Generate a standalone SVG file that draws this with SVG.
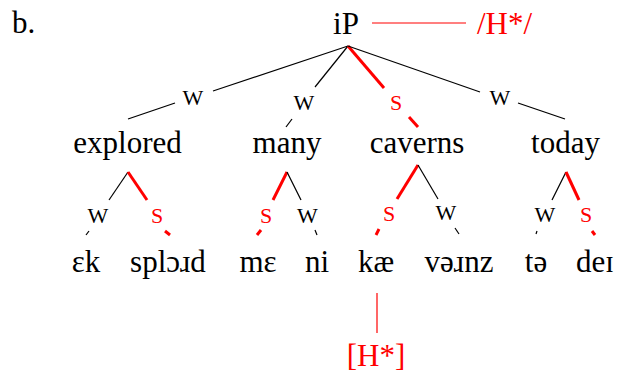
<svg xmlns="http://www.w3.org/2000/svg" width="617" height="373" viewBox="0 0 617 373">
<style>
text{font-family:"Liberation Serif","Times New Roman",serif;font-size:31px;fill:#000;text-anchor:middle}
.r{fill:#ff0000}
.sc{font-variant:small-caps;font-size:32px}
.k{stroke:#000;stroke-width:1.2;fill:none}
.rt{stroke:#ff0000;stroke-width:3;fill:none}
.rn{stroke:#ff0000;stroke-width:1.2;fill:none}
</style>
<rect width="617" height="373" fill="#fff"/>
<g id="label-b"><text x="12" y="33" style="text-anchor:start">b.</text></g>
<g id="iP"><text x="346" y="34">iP</text></g>
<g id="tone-phon"><text x="477" y="34" class="r" style="text-anchor:start">/H*/</text></g>
<g id="w1"><text x="193" y="105" class="sc">w</text></g>
<g id="w2"><text x="304" y="110" class="sc">w</text></g>
<g id="s3"><text x="396" y="110" class="sc r">s</text></g>
<g id="w4"><text x="500" y="105" class="sc">w</text></g>
<g id="explored"><text x="127.5" y="153">explored</text></g>
<g id="many"><text x="287" y="153">many</text></g>
<g id="caverns"><text x="417" y="153">caverns</text></g>
<g id="today"><text x="565.5" y="153">today</text></g>
<g id="explored-w"><text x="98" y="223" class="sc">w</text></g>
<g id="explored-s"><text x="157" y="223" class="sc r">s</text></g>
<g id="many-s"><text x="266" y="223" class="sc r">s</text></g>
<g id="many-w"><text x="307.5" y="223" class="sc">w</text></g>
<g id="caverns-s"><text x="389" y="221" class="sc r">s</text></g>
<g id="caverns-w"><text x="446" y="220" class="sc">w</text></g>
<g id="today-w"><text x="545" y="222" class="sc">w</text></g>
<g id="today-s"><text x="586" y="222" class="sc r">s</text></g>
<g id="syl-ek"><text x="86" y="272">ɛk</text></g>
<g id="syl-splord"><text x="168" y="272">splɔɹd</text></g>
<g id="syl-me"><text x="258" y="272">mɛ</text></g>
<g id="syl-ni"><text x="317" y="272">ni</text></g>
<g id="syl-kae"><text x="376" y="272">kæ</text></g>
<g id="syl-vernz"><text x="459" y="272">vəɹnz</text></g>
<g id="syl-te"><text x="536" y="272">tə</text></g>
<g id="syl-dei"><text x="595" y="272">deɪ</text></g>
<g id="tone-phonetic"><text x="376" y="366" class="r">[H*]</text></g>
<g id="connectors">
<line class="rn" x1="372" y1="23" x2="466" y2="23"/>
<line class="k" x1="348" y1="46" x2="213" y2="91"/>
<line class="k" x1="175" y1="103" x2="128" y2="119"/>
<line class="k" x1="348" y1="46" x2="315" y2="87"/>
<line class="k" x1="292" y1="119" x2="286" y2="127"/>
<line class="rt" x1="348" y1="46" x2="384" y2="88"/>
<line class="rt" x1="409" y1="117" x2="418" y2="127"/>
<line class="k" x1="348" y1="46" x2="480" y2="92"/>
<line class="k" x1="518" y1="103" x2="565" y2="119"/>
<line class="k" x1="128" y1="172" x2="109" y2="200"/>
<line class="rt" x1="128" y1="172" x2="147" y2="200"/>
<line class="k" x1="89" y1="231" x2="86" y2="235"/>
<line class="rt" x1="165" y1="231" x2="170" y2="235"/>
<line class="rt" x1="287" y1="172" x2="273" y2="200"/>
<line class="k" x1="287" y1="172" x2="301" y2="200"/>
<line class="rt" x1="261" y1="230" x2="257" y2="235"/>
<line class="k" x1="315" y1="230" x2="317" y2="235"/>
<line class="rt" x1="418" y1="165" x2="397" y2="199"/>
<line class="k" x1="418" y1="165" x2="438" y2="199"/>
<line class="rt" x1="379" y1="229" x2="376" y2="235"/>
<line class="k" x1="455" y1="228" x2="459" y2="234"/>
<line class="k" x1="566" y1="172" x2="552" y2="200"/>
<line class="rt" x1="566" y1="172" x2="579" y2="200"/>
<line class="k" x1="537" y1="231" x2="536" y2="234"/>
<line class="rt" x1="592" y1="231" x2="595" y2="235"/>
<line class="rn" x1="377" y1="293" x2="377" y2="333"/>
</g>
</svg>
